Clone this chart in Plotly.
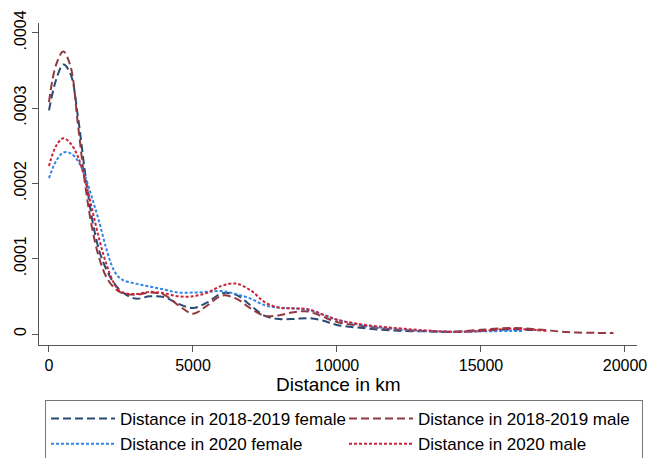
import plotly.graph_objects as go

# x grid (km)
x_main = [0, 250, 500, 750, 1000, 1250, 1500, 1750, 2000, 2250, 2500, 3000, 3500, 4000,
          4500, 5000, 5500, 6000, 6500, 7000, 7500, 8000, 8500, 9000, 9500, 10000,
          11000, 12000, 13000, 14000, 15000, 16000, 17000]
x_male_1819 = x_main + [18000, 19000, 19600]
x_fem_2020 = x_main[:-1] + [16500]
x_male_2020 = x_main + [17300]

female_1819 = [0.000297, 0.000338, 0.000358, 0.000345, 0.000290, 0.000215, 0.000152, 0.000110,
               0.000085, 0.000068, 0.000057, 0.000047, 0.000050, 0.000049, 0.000040, 0.0000345,
               0.000042, 0.000054, 0.000052, 0.000038, 0.000024, 0.000020, 0.000020, 0.000021,
               0.000018, 0.000012, 0.0000075, 0.0000045, 0.0000035, 0.0000027, 0.000004,
               0.000006, 0.000005]
male_1819 = [0.000308, 0.000358, 0.000375, 0.000355, 0.000280, 0.000200, 0.000140, 0.000100,
             0.000075, 0.000062, 0.000055, 0.000052, 0.000055, 0.000052, 0.000038, 0.000027,
             0.000038, 0.000051, 0.000047, 0.000034, 0.000024, 0.000025, 0.000029, 0.000030,
             0.000023, 0.000016, 0.000010, 0.000006, 0.000004, 0.000003, 0.0000055, 0.000008,
             0.000006, 0.0000025, 0.0000015, 0.0000012]
female_2020 = [0.000207, 0.000230, 0.000241, 0.000240, 0.000230, 0.000210, 0.000180, 0.000148,
               0.000112, 0.000085, 0.000073, 0.000067, 0.000063, 0.000059, 0.000055, 0.000055,
               0.000056, 0.000057, 0.000053, 0.000047, 0.000038, 0.000035, 0.000034, 0.000032,
               0.000026, 0.000019, 0.000011, 0.000007, 0.000004, 0.000003, 0.0000035,
               0.000004, 0.000004]
male_2020 = [0.000223, 0.000250, 0.000260, 0.000253, 0.000236, 0.000205, 0.000165, 0.000125,
             0.000092, 0.000068, 0.000056, 0.000053, 0.000056, 0.000054, 0.000050, 0.000050,
             0.000055, 0.000064, 0.000067, 0.000058, 0.000042, 0.000035, 0.000034, 0.000033,
             0.000026, 0.000019, 0.000012, 0.000008, 0.000005, 0.000003, 0.000004, 0.000007,
             0.000005, 0.000004]

names = ["Distance in 2018-2019 female", "Distance in 2018-2019 male",
         "Distance in 2020 female", "Distance in 2020 male"]
colors = ["#284a75", "#93393e", "#2f86e8", "#c9243a"]
x_title = "Distance in km"

y_tickvals = [0, 0.0001, 0.0002, 0.0003, 0.0004]
y_ticktext = ["0", ".0001", ".0002", ".0003", ".0004"]
x_tickvals = [0, 5000, 10000, 15000, 20000]
x_ticktext = ["0", "5000", "10000", "15000", "20000"]

fig = go.Figure()
series = [
    (x_main, female_1819, names[0], colors[0], "8px,4px"),
    (x_male_1819, male_1819, names[1], colors[1], "8px,4px"),
    (x_fem_2020, female_2020, names[2], colors[2], "3px,2px"),
    (x_male_2020, male_2020, names[3], colors[3], "3px,2px"),
]
for xs, ys, nm, col, dash in series:
    fig.add_trace(go.Scatter(x=xs, y=ys, name=nm, mode="lines",
                             line=dict(color=col, width=2, dash=dash, shape="spline", smoothing=1.0)))

fig.update_layout(
    width=650, height=458,
    margin=dict(l=39, r=13, t=23, b=113, autoexpand=False),
    paper_bgcolor="white", plot_bgcolor="white",
    font=dict(family="Liberation Sans, Arial, sans-serif", size=16, color="black"),
    showlegend=True,
    legend=dict(orientation="h", xref="container", yref="container",
                x=45 / 650, xanchor="left", y=1 - 400 / 458, yanchor="top",
                bordercolor="#777", borderwidth=1, bgcolor="white",
                entrywidth=219, entrywidthmode="pixels", itemwidth=64,
                font=dict(size=17), tracegroupgap=0, traceorder="normal"),
    annotations=[dict(text=x_title, xref="paper", yref="paper", x=0.5, y=-0.1242,
                      xanchor="center", yanchor="middle", showarrow=False,
                      font=dict(size=19))],
)
fig.update_xaxes(range=[-347, 20417], tickvals=x_tickvals, ticktext=x_ticktext,
                 ticks="outside", ticklen=6, automargin=False,
                 tickcolor="#555", showline=True, linecolor="#555", linewidth=1,
                 showgrid=False, zeroline=False, tickfont=dict(size=16))
fig.update_yaxes(range=[-0.0000146, 0.000413], tickvals=y_tickvals, ticktext=y_ticktext,
                 tickangle=-90, ticks="outside", ticklen=6, tickcolor="#555", automargin=False,
                 tickfont=dict(size=16),
                 showline=True, linecolor="#555", linewidth=1, showgrid=False, zeroline=False)

fig.write_html("out.html", config={"displayModeBar": False},
               post_script="document.body.style.margin='0';")
